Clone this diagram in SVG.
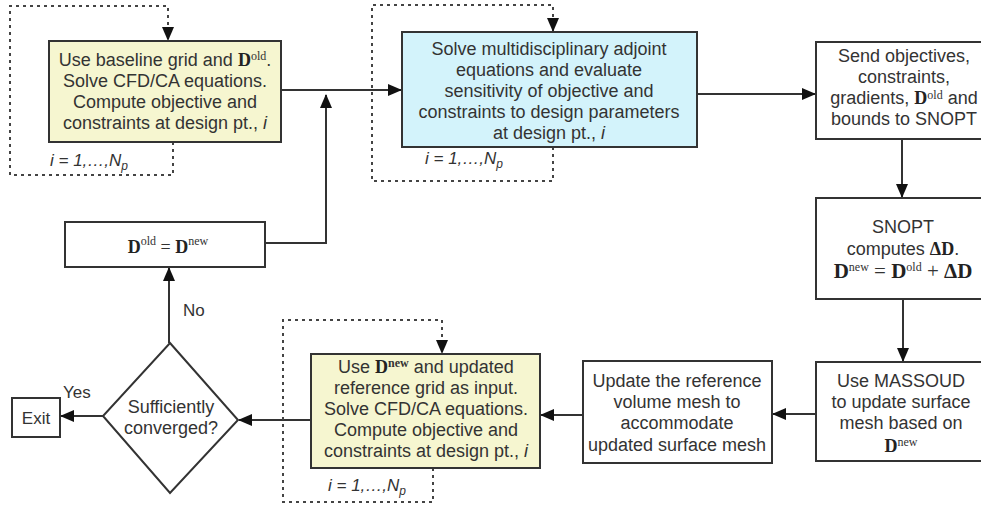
<svg xmlns="http://www.w3.org/2000/svg" width="981" height="506" viewBox="0 0 981 506">
<defs>
<marker id="ah" markerUnits="userSpaceOnUse" markerWidth="14" markerHeight="12" refX="13" refY="6" orient="auto">
<path d="M0,0 L14,6 L0,12 z" fill="#111"/>
</marker>
<style>
.box{stroke:#333;stroke-width:2;fill:#fff}
.yel{fill:#f6f6d0}
.blu{fill:#d3f3fb}
.t{font-family:"Liberation Sans",Arial,sans-serif;font-size:18px;fill:#333;text-anchor:middle}
.lbl{font-family:"Liberation Sans",Arial,sans-serif;font-size:17px;fill:#333}
.it{font-style:italic}
.m{font-family:"Liberation Serif","Times New Roman",serif;font-weight:bold;font-size:18px;fill:#222}
.s{font-family:"Liberation Serif","Times New Roman",serif;font-size:12px;fill:#333}
.mo{font-family:"Liberation Serif","Times New Roman",serif;font-size:18px;fill:#333}
.big{font-size:21px}
.c{stroke:#333;stroke-width:2;fill:none}
.d{stroke:#444;stroke-width:2;fill:none;stroke-dasharray:3,4}
</style>
</defs>

<g id="connectors">
<path class="c" d="M281,90 H401" marker-end="url(#ah)"/>
<path class="c" d="M265,243 H326 V95" marker-end="url(#ah)"/>
<path class="c" d="M697,94 H815" marker-end="url(#ah)"/>
<path class="c" d="M902,139 V197" marker-end="url(#ah)"/>
<path class="c" d="M903,299 V361" marker-end="url(#ah)"/>
<path class="c" d="M816,414 H773" marker-end="url(#ah)"/>
<path class="c" d="M583,415 H541" marker-end="url(#ah)"/>
<path class="c" d="M311,420 H239" marker-end="url(#ah)"/>
<path class="c" d="M103,416 H61" marker-end="url(#ah)"/>
<path class="c" d="M169,343 V268" marker-end="url(#ah)"/>
<path class="d" d="M173,142 V175 H10 V6 H168 V40" marker-end="url(#ah)"/>
<path class="d" d="M553,147 V181 H372 V5 H553 V31" marker-end="url(#ah)"/>
<path class="d" d="M433,468 V502 H283 V320 H442 V353" marker-end="url(#ah)"/>
</g>

<g id="loop-labels">
<text class="lbl it" x="50" y="166">i = 1,…,N<tspan font-size="12" dy="4">p</tspan></text>
<text class="lbl it" x="425" y="164">i = 1,…,N<tspan font-size="12" dy="4">p</tspan></text>
<text class="lbl it" x="328" y="491">i = 1,…,N<tspan font-size="12" dy="4">p</tspan></text>
<text class="lbl" x="63" y="398">Yes</text>
<text class="lbl" x="183" y="316">No</text>
</g>

<g id="baseline-solve">
<rect class="box yel" x="49" y="41" width="232" height="101"/>
<text class="t" x="165" y="66">Use baseline grid and <tspan class="m">D</tspan><tspan class="s" dy="-6">old</tspan><tspan dy="6">.</tspan></text>
<text class="t" x="165" y="87">Solve CFD/CA equations.</text>
<text class="t" x="165" y="108">Compute objective and</text>
<text class="t" x="165" y="129">constraints at design pt., <tspan class="it">i</tspan></text>
</g>

<g id="adjoint">
<rect class="box blu" x="402" y="32" width="295" height="115"/>
<text class="t" x="549" y="55">Solve multidisciplinary adjoint</text>
<text class="t" x="549" y="76">equations and evaluate</text>
<text class="t" x="549" y="97">sensitivity of objective and</text>
<text class="t" x="549" y="118">constraints to design parameters</text>
<text class="t" x="549" y="139">at design pt., <tspan class="it">i</tspan></text>
</g>

<g id="send-snopt">
<rect class="box" x="816" y="42" width="176" height="97"/>
<text class="t" x="904" y="62">Send objectives,</text>
<text class="t" x="904" y="83">constraints,</text>
<text class="t" x="904" y="104">gradients, <tspan class="m">D</tspan><tspan class="s" dy="-5">old</tspan><tspan dy="5"> and</tspan></text>
<text class="t" x="904" y="125">bounds to SNOPT</text>
</g>

<g id="snopt">
<rect class="box" x="816" y="198" width="176" height="101"/>
<text class="t" x="903" y="233">SNOPT</text>
<text class="t" x="903" y="255">computes <tspan class="m">ΔD</tspan>.</text>
<text class="t" x="903" y="278"><tspan class="m big">D</tspan><tspan class="s" font-size="14" dy="-7">new</tspan><tspan class="mo big" dy="7"> = </tspan><tspan class="m big">D</tspan><tspan class="s" font-size="14" dy="-7">old</tspan><tspan class="mo big" dy="7"> + </tspan><tspan class="m big">ΔD</tspan></text>
</g>

<g id="massoud">
<rect class="box" x="816" y="362" width="176" height="99"/>
<text class="t" x="901" y="387">Use MASSOUD</text>
<text class="t" x="901" y="408">to update surface</text>
<text class="t" x="901" y="429">mesh based on</text>
<text class="t" x="901" y="452"><tspan class="m">D</tspan><tspan class="s" dy="-6">new</tspan></text>
</g>

<g id="volume-mesh">
<rect class="box" x="583" y="361" width="189" height="102"/>
<text class="t" x="677" y="387">Update the reference</text>
<text class="t" x="677" y="408">volume mesh to</text>
<text class="t" x="677" y="429">accommodate</text>
<text class="t" x="677" y="451">updated surface mesh</text>
</g>

<g id="updated-solve">
<rect class="box yel" x="311" y="354" width="229" height="114"/>
<text class="t" x="426" y="373">Use <tspan class="m">D</tspan><tspan class="s" dy="-6" font-weight="bold">new</tspan><tspan dy="6"> and updated</tspan></text>
<text class="t" x="426" y="394">reference grid as input.</text>
<text class="t" x="426" y="415">Solve CFD/CA equations.</text>
<text class="t" x="426" y="436">Compute objective and</text>
<text class="t" x="426" y="457">constraints at design pt., <tspan class="it">i</tspan></text>
</g>

<g id="converged">
<polygon class="box" points="170,343 238,420 170,493 103,416"/>
<text class="t" x="171" y="413">Sufficiently</text>
<text class="t" x="171" y="434">converged?</text>
</g>

<g id="exit">
<rect class="box" x="12" y="398" width="48" height="39"/>
<text class="lbl" x="36" y="424" text-anchor="middle">Exit</text>
</g>

<g id="update-d">
<rect class="box" x="65" y="222" width="200" height="45"/>
<text class="t" x="168" y="253"><tspan class="m" font-size="21">D</tspan><tspan class="s" font-size="15" dy="-8">old</tspan><tspan class="mo" font-size="22" dy="8"> = </tspan><tspan class="m" font-size="21">D</tspan><tspan class="s" font-size="15" dy="-8">new</tspan></text>
</g>
</svg>
